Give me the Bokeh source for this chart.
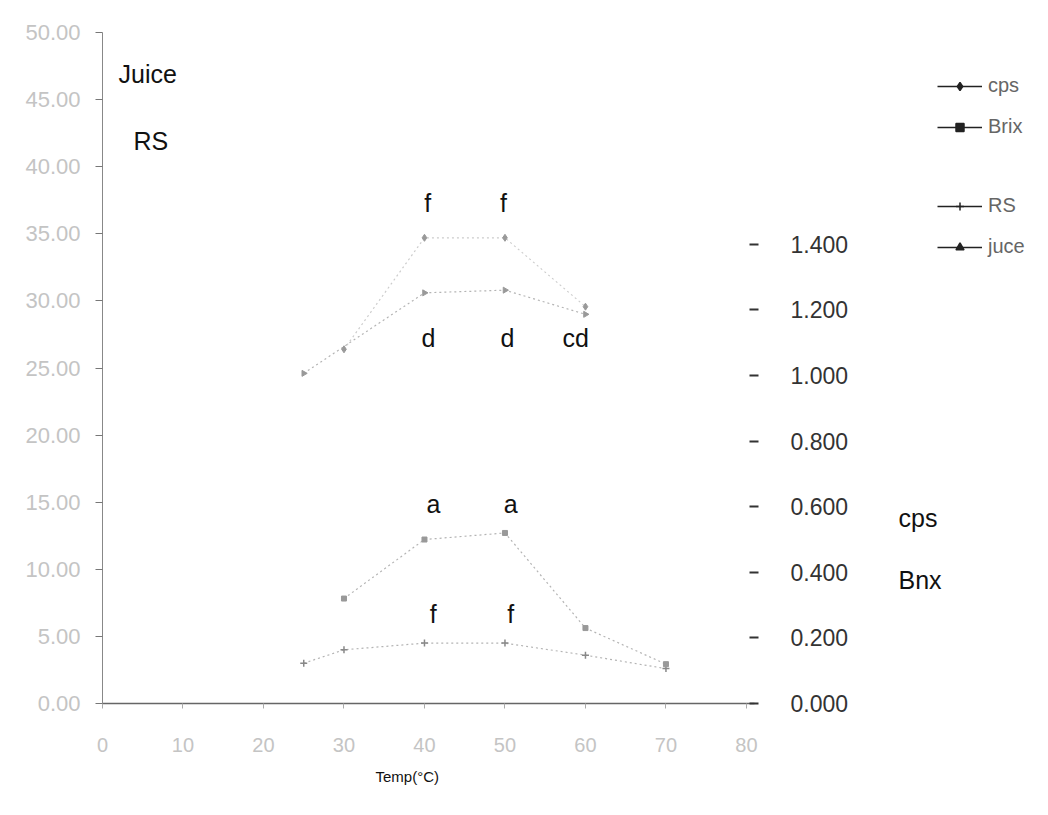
from bokeh.plotting import figure
from bokeh.layouts import row
from bokeh.models import (Range1d, LinearAxis, FixedTicker, NumeralTickFormatter,
                          Legend, LegendItem, Label, ColumnDataSource, Title)
from bokeh.core.properties import value
from bokeh.embed import file_html
from bokeh.resources import INLINE

# ---- data ----
x_ticks = [0, 10, 20, 30, 40, 50, 60, 70, 80]
left_ticks = [0, 5, 10, 15, 20, 25, 30, 35, 40, 45, 50]
right_ticks = [0.0, 0.2, 0.4, 0.6, 0.8, 1.0, 1.2, 1.4]

# left axis series
juice_temp = [25, 40, 50, 60]
juice = [24.6, 30.6, 30.8, 29.0]
rs_temp = [25, 30, 40, 50, 60, 70]
rs = [3.0, 4.0, 4.5, 4.5, 3.6, 2.6]
# right axis series
cps_temp = [30, 40, 50, 60]
cps = [1.08, 1.42, 1.42, 1.21]
brix_temp = [30, 40, 50, 60, 70]
brix = [0.32, 0.50, 0.52, 0.23, 0.12]

# significance letters (temp, left-axis value, letter)
sig_x = [40.4, 49.8, 40.5, 50.3, 58.8, 41.1, 50.7, 41.1, 50.7]
sig_y = [37.3, 37.3, 27.2, 27.2, 27.2, 14.9, 14.9, 6.7, 6.7]
sig_t = ["f", "f", "d", "d", "cd", "a", "a", "f", "f"]

legend_labels = ["cps", "Brix", "RS", "juce"]
right_titles = ["cps", "Bnx"]

FONT = "Liberation Sans"
FAINT = "#b4b4b4"
DARK = "#222222"

W_MAIN = 854
H = 815
B_LEFT, B_TOP, B_BOTTOM = 102, 32, 112

p = figure(width=W_MAIN, height=H, x_range=Range1d(0, 81), y_range=Range1d(0, 50),
           output_backend="svg", toolbar_location=None,
           min_border_left=B_LEFT, min_border_right=100, min_border_top=B_TOP,
           min_border_bottom=B_BOTTOM)
p.background_fill_color = "white"
p.border_fill_color = "white"
p.outline_line_color = None
p.grid.visible = False

# bottom axis
xa = p.xaxis[0]
xa.ticker = FixedTicker(ticks=x_ticks)
xa.axis_line_color = "#666666"
xa.axis_line_width = 1.5
xa.major_tick_line_color = "#aaaaaa"
xa.major_tick_out = 5
xa.major_tick_in = 0
xa.minor_tick_line_color = None
xa.major_label_text_color = "#c4c4c4"
xa.major_label_text_font = FONT
xa.major_label_text_font_size = "20px"
xa.major_label_standoff = 29

# left axis
ya = p.yaxis[0]
ya.ticker = FixedTicker(ticks=left_ticks)
ya.formatter = NumeralTickFormatter(format="0.00")
ya.axis_line_color = "#888888"
ya.major_tick_line_color = "#777777"
ya.major_tick_out = 7
ya.major_tick_in = 0
ya.minor_tick_line_color = None
ya.major_label_text_color = "#c4c4c4"
ya.major_label_text_font = FONT
ya.major_label_text_font_size = "22px"
ya.major_label_standoff = 15

# right axis
p.extra_y_ranges = {"right": Range1d(0, 2.046)}
ra = LinearAxis(y_range_name="right", ticker=FixedTicker(ticks=right_ticks),
                formatter=NumeralTickFormatter(format="0.000"))
ra.axis_line_color = None
ra.major_tick_line_color = "#333333"
ra.major_tick_line_width = 2
ra.major_tick_out = 4
ra.major_tick_in = 5
ra.minor_tick_line_color = None
ra.major_label_text_color = "#333333"
ra.major_label_text_font = FONT
ra.major_label_text_font_size = "23px"
ra.major_label_standoff = 32
p.add_layout(ra, "right")

# faint data lines (as in the faded scan)
p.line(juice_temp, juice, line_color=FAINT, line_dash="2 3", line_width=1.2)
p.scatter(juice_temp, juice, marker="triangle", angle=-1.5708, size=6, color="#999999")
p.line(rs_temp, rs, line_color=FAINT, line_dash="2 3", line_width=1.2)
p.scatter(rs_temp, rs, marker="cross", size=7, line_color="#888888", line_width=1.5)
p.line(cps_temp, cps, y_range_name="right", line_color="#cccccc", line_dash="2 3", line_width=1.2)
p.scatter(cps_temp, cps, y_range_name="right", marker="diamond", size=7, color="#999999")
p.line(brix_temp, brix, y_range_name="right", line_color=FAINT, line_dash="2 3", line_width=1.2)
p.scatter(brix_temp, brix, y_range_name="right", marker="square", size=5, color="#999999")

# significance letters
src = ColumnDataSource(dict(x=sig_x, y=sig_y, t=sig_t))
p.text(x="x", y="y", text="t", source=src, text_font=value(FONT), text_font_size="25px",
       text_color="#111111", text_align="center", text_baseline="middle")

# axis titles inside the plot
def add_label(x, y, text, size):
    p.add_layout(Label(x=x, y=y, text=text, text_font=FONT, text_font_size=size,
                       text_color="#111111", text_align="left", text_baseline="middle"))

add_label(2.0, 46.9, "Juice", "25px")
add_label(3.85, 41.9, "RS", "25px")

# x axis title
p.add_layout(Title(text="Temp(°C)", align="left", offset=273, text_font=FONT,
                   text_font_size="15px", text_font_style="normal", text_color="#111111",
                   standoff=23), "below")

# ---- right strip: legend and right-axis titles (canvas-pixel coordinates) ----
frame_bottom = H - B_BOTTOM
q = figure(width=1048 - W_MAIN, height=H, x_range=Range1d(W_MAIN, 1048),
           y_range=Range1d(frame_bottom, B_TOP),
           output_backend="svg", toolbar_location=None,
           min_border_left=0, min_border_right=0, min_border_top=B_TOP,
           min_border_bottom=B_BOTTOM)
q.axis.visible = False
q.grid.visible = False
q.outline_line_color = None
q.background_fill_color = "white"
q.border_fill_color = "white"

q.text(x=[898, 898], y=[517, 579], text=right_titles, text_font=value(FONT),
       text_font_size="25px", text_color="#111111", text_align="left", text_baseline="middle")

series_for_legend = [(cps_temp, cps, "diamond", 9), (brix_temp, brix, "square", 7),
                     (rs_temp, rs, "cross", 9), (juice_temp, juice, "triangle", 8)]
item_renderers = []
for xs, ys, mk, sz in series_for_legend:
    # same series, drawn out of this strip's view: only its legend icon shows
    ln = q.line(xs, ys, line_color=DARK, line_width=1.5)
    sc = q.scatter(xs, ys, marker=mk, size=sz, color=DARK, line_width=1.5)
    item_renderers.append([ln, sc])

spacer = q.line(cps_temp, cps, line_alpha=0)
items = [LegendItem(label=legend_labels[0], renderers=item_renderers[0]),
         LegendItem(label=legend_labels[1], renderers=item_renderers[1]),
         LegendItem(label=" ", renderers=[spacer]),
         LegendItem(label=legend_labels[2], renderers=item_renderers[2]),
         LegendItem(label=legend_labels[3], renderers=item_renderers[3])]
leg = Legend(items=items, location=(937 - W_MAIN, frame_bottom - 258))
leg.border_line_color = None
leg.background_fill_alpha = 0
leg.padding = 0
leg.margin = 0
leg.glyph_width = 45
leg.glyph_height = 20
leg.label_height = 20
leg.spacing = 18
leg.label_standoff = 6
leg.label_text_font = FONT
leg.label_text_font_size = "20px"
leg.label_text_color = "#666666"
q.add_layout(leg)

layout = row(p, q, spacing=0)
open("out.html", "w").write(file_html(layout, INLINE))
